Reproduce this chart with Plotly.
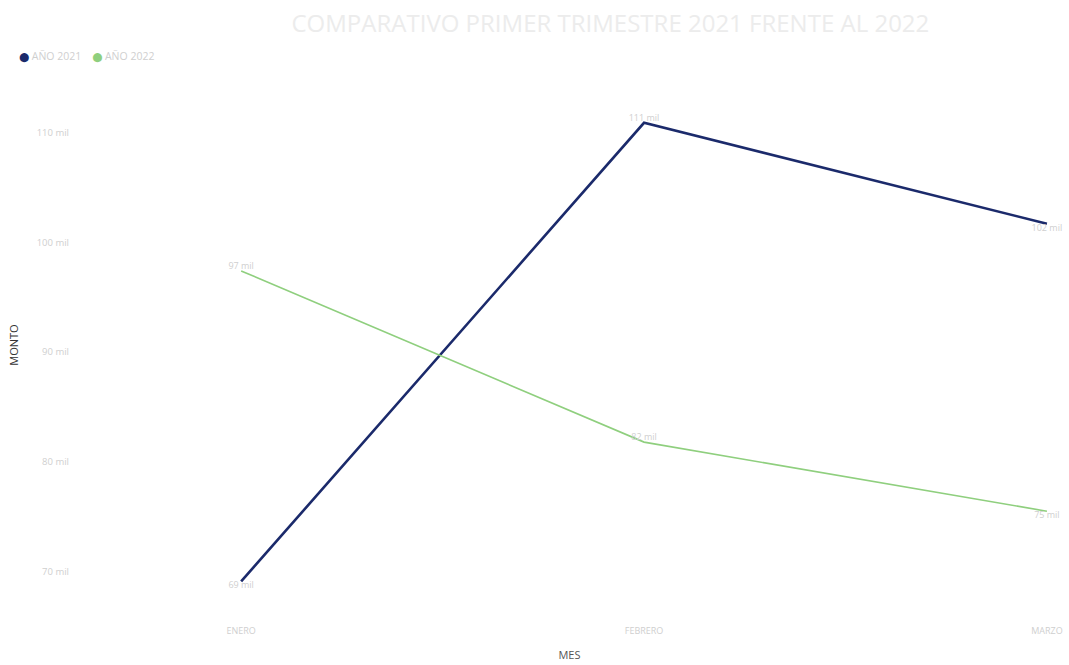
import plotly.graph_objects as go

meses = ["ENERO", "FEBRERO", "MARZO"]
monto_2021 = [69100, 110900, 101700]
monto_2022 = [97400, 81800, 75500]
labels_2021 = ["69 mil", "111 mil", "102 mil"]
labels_2022 = ["97 mil", "82 mil", "75 mil"]
y_ticks = [70000, 80000, 90000, 100000, 110000]
y_tick_text = ["70 mil", "80 mil", "90 mil", "100 mil", "110 mil"]
series_names = ["AÑO 2021", "AÑO 2022"]

faint = "#cfcfcf"
c2021 = "#1b2a6b"
c2022 = "#8fcf7e"
fig = go.Figure()
fig.add_trace(go.Scatter(
    x=meses, y=monto_2021, name=series_names[0], mode="lines+text", showlegend=False,
    cliponaxis=False,
    line=dict(color=c2021, width=2.6),
    text=labels_2021, textposition=["bottom center", "top center", "bottom center"],
    textfont=dict(size=9, color=faint),
))
fig.add_trace(go.Scatter(
    x=meses, y=monto_2022, name=series_names[1], mode="lines+text", showlegend=False,
    cliponaxis=False,
    line=dict(color=c2022, width=1.6),
    text=labels_2022, textposition=["top center", "top center", "bottom center"],
    textfont=dict(size=9, color=faint),
))

dot = "<span style='color:{c};font-family:DejaVu Sans;font-size:9px'>⬤</span>"
legend_text = (dot.format(c=c2021) + f"&nbsp;{series_names[0]}&nbsp;&nbsp;&nbsp;&nbsp;"
               + dot.format(c=c2022) + f"&nbsp;{series_names[1]}")
fig.add_annotation(text=legend_text, xref="paper", yref="paper",
                   x=-0.064, y=1.045, xanchor="left", yanchor="middle",
                   showarrow=False, font=dict(size=10.5, color=faint))

fig.update_layout(
    width=1069, height=665,
    paper_bgcolor="white", plot_bgcolor="white",
    font=dict(family="Open Sans", color=faint),
    margin=dict(l=80, r=10, t=80, b=55),
    title=dict(text="COMPARATIVO PRIMER TRIMESTRE 2021 FRENTE AL 2022",
               x=0.571, xanchor="center", y=0.965, yanchor="middle",
               font=dict(size=24, color="#ececec")),
    showlegend=False,
    xaxis=dict(type="category", range=[-0.40, 2.03], showgrid=False, zeroline=False,
               showline=False, ticks="", tickfont=dict(size=9, color=faint),
               ticklabelstandoff=14, automargin=False,
               title=dict(text="MES", font=dict(size=11, color="#555555"))),
    yaxis=dict(range=[66500, 114800], tickvals=y_ticks, ticktext=y_tick_text,
               showgrid=False, zeroline=False, showline=False, ticks="",
               tickfont=dict(size=9.5, color=faint), ticklabelstandoff=10,
               automargin=False,
               title=dict(text="MONTO", font=dict(size=11, color="#333333"))),
)
fig.write_html("out.html", config={"displayModeBar": False},
               post_script="document.body.style.margin='0';")
